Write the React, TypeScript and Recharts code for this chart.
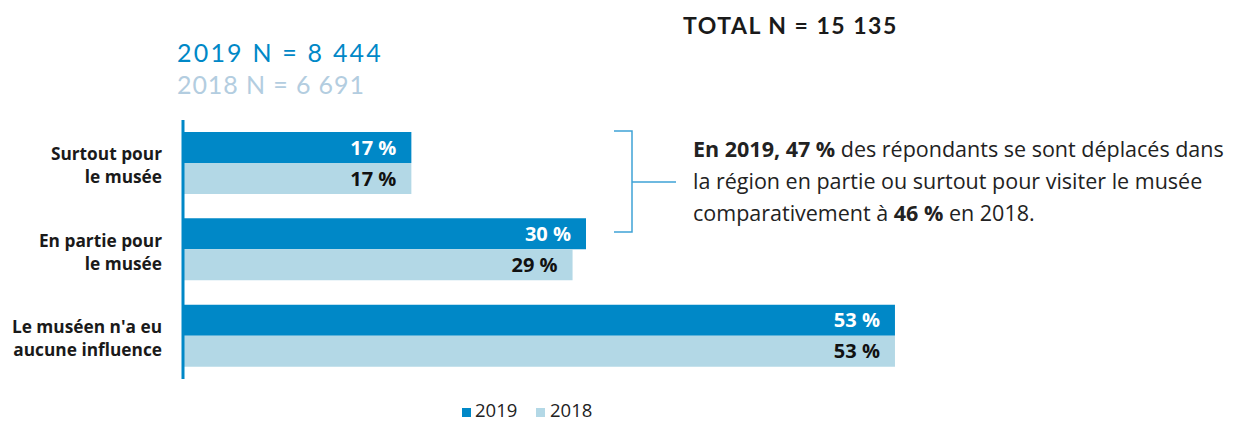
import { BarChart, Bar, XAxis, YAxis, LabelList } from 'recharts';

const categories = ['Surtout pour\nle musée', 'En partie pour\nle musée', "Le muséen n'a eu\naucune influence"];
const values2019 = [17, 30, 53];
const values2018 = [17, 29, 53];
const seriesNames = ['2019', '2018'];
const sampleSizes = ['2019 N = 8 444', '2018 N = 6 691'];
const totalLabel = 'TOTAL N = 15 135';
const noteLines = [
  [{ t: 'En 2019, 47 %', b: true }, { t: ' des répondants se sont déplacés dans', b: false }],
  [{ t: 'la région en partie ou surtout pour visiter le musée', b: false }],
  [{ t: 'comparativement à ', b: false }, { t: '46 %', b: true }, { t: ' en 2018.', b: false }],
];

const DARK = '#0088c7';
const LIGHT = '#b3d8e6';
const FONT = "'Open Sans', sans-serif";
const HEAD_FONT = 'Lato, sans-serif';

const data = categories.map((name, i) => ({ name, y2019: values2019[i], y2018: values2018[i] }));

function CategoryTick({ x, y, payload }: any) {
  const lines = String(payload.value).split('\n');
  return (
    <text textAnchor="end" fontFamily={FONT} fontWeight={700} fontSize={17.3} fill="#1a1a1a">
      <tspan x={x} y={y - 3}>{lines[0]}</tspan>
      <tspan x={x} y={y + 20}>{lines[1]}</tspan>
    </text>
  );
}

function valueLabel(color: string) {
  return (p: any) => (
    <text
      x={p.x + p.width - 15}
      y={p.y + p.height / 2}
      dy="0.36em"
      textAnchor="end"
      fontFamily={FONT}
      fontWeight={700}
      fontSize={20}
      fill={color}
    >
      {`${p.value} %`}
    </text>
  );
}

export default function App() {
  return (
    <div style={{ position: 'absolute', left: 0, top: 0, width: 1234, height: 423, background: '#fff' }}>
      <BarChart
        width={1234}
        height={423}
        data={data}
        layout="vertical"
        barGap={0}
        margin={{ top: 120, right: 245, bottom: 44, left: 0 }}
      >
        <XAxis type="number" domain={[0, 60]} hide />
        <YAxis
          type="category"
          dataKey="name"
          width={183}
          axisLine={{ stroke: DARK, strokeWidth: 3 }}
          tickLine={false}
          tickSize={0}
          tickMargin={21}
          tick={<CategoryTick />}
        />
        <Bar dataKey="y2019" name={seriesNames[0]} fill={DARK} barSize={31} isAnimationActive={false}>
          <LabelList dataKey="y2019" content={valueLabel('#ffffff')} />
        </Bar>
        <Bar dataKey="y2018" name={seriesNames[1]} fill={LIGHT} barSize={31} isAnimationActive={false}>
          <LabelList dataKey="y2018" content={valueLabel('#111111')} />
        </Bar>
      </BarChart>

      <svg width={1234} height={423} style={{ position: 'absolute', left: 0, top: 0, pointerEvents: 'none' }}>
        {/* headers */}
        <text x={683} y={34} fontFamily={HEAD_FONT} fontWeight={700} fontSize={23} letterSpacing={1.5} fill="#1a1a1a">
          {totalLabel}
        </text>
        <text x={177} y={62} fontFamily={HEAD_FONT} fontSize={25} letterSpacing={2.2} fill={DARK}>
          {sampleSizes[0]}
        </text>
        <text x={177} y={94} fontFamily={HEAD_FONT} fontSize={25} letterSpacing={0.9} fill="#b3cde0">
          {sampleSizes[1]}
        </text>

        {/* bracket */}
        <path d="M614,131 H632 V232 H614 M632,182 H676" fill="none" stroke="#3fa3d6" strokeWidth={1.5} />

        {/* note */}
        <text fontFamily={FONT} fontSize={21.5} fill="#222">
          {noteLines.map((line, i) => (
            <tspan key={i} x={693} y={157 + i * 32}>
              {line.map((seg, j) => (
                <tspan key={j} fontWeight={seg.b ? 700 : 400}>{seg.t}</tspan>
              ))}
            </tspan>
          ))}
        </text>

        {/* legend */}
        <rect x={462} y={408} width={9} height={9} fill={DARK} />
        <text x={475} y={417} fontFamily={FONT} fontSize={18.5} fill="#222">{seriesNames[0]}</text>
        <rect x={536} y={408} width={9} height={9} fill={LIGHT} />
        <text x={550} y={417} fontFamily={FONT} fontSize={18.5} fill="#222">{seriesNames[1]}</text>
      </svg>
    </div>
  );
}
